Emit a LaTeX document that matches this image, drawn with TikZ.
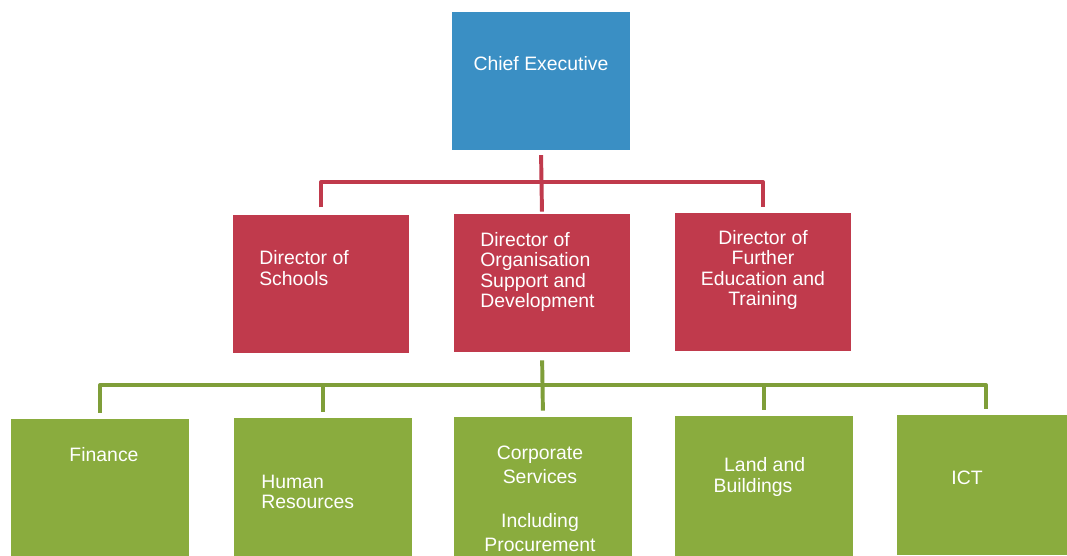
\documentclass[tikz,border=0pt]{standalone}
\usepackage{fontspec}
\setmainfont{Liberation Sans}
\definecolor{ceblue}{RGB}{58,143,196}
\definecolor{dirred}{RGB}{192,58,76}
\definecolor{unitgreen}{RGB}{138,172,62}
\tikzstyle{boxblue}=[rectangle,fill=ceblue,minimum width=4.45cm,minimum height=3.45cm,inner sep=0pt]
\tikzstyle{boxred}=[rectangle,fill=dirred,minimum width=4.4cm,minimum height=3.45cm,inner sep=0pt]
\tikzstyle{boxgreen}=[rectangle,fill=unitgreen,minimum width=4.45cm,minimum height=3.5cm,inner sep=0pt]
\tikzstyle{txt}=[text=white,font=\fontsize{13.8}{14.4}\selectfont,inner sep=0pt]
\tikzstyle{redline}=[draw=dirred,line width=2.8pt,line join=round]
\tikzstyle{greenline}=[draw=unitgreen!92!black,line width=2.8pt,line join=round]

\begin{document}
\begin{tikzpicture}[x=0.025cm,y=-0.025cm]
    \useasboundingbox (0,0) rectangle (1067,556);
    \fill[white] (0,0) rectangle (1067,556);
    \clip (0,0) rectangle (1067,556);

    % boxes
    \node[boxblue] (ce) at (541,81) {};
    \node[boxred] (schools) at (321,284) {};
    \node[boxred] (osd) at (542,283) {};
    \node[boxred] (fet) at (763,282) {};
    \node[boxgreen] (finance) at (100,489) {};
    \node[boxgreen] (hr) at (323,488) {};
    \node[boxgreen] (corp) at (543,487) {};
    \node[boxgreen] (land) at (764,486) {};
    \node[boxgreen] (ict) at (986,485) {};

    % texts
    \node[txt] (tce) at (541,64) {Chief Executive};
    \node[txt,anchor=west,align=left] (tschools) at (259,268) {Director of\\Schools};
    \node[txt,anchor=west,align=left] (tosd) at (480,272) {Director of\\Organisation\\Support and\\Development};
    \node[txt,align=center] (tfet) at (763,270) {Director of\\Further\\Education and\\Training};
    \node[txt] (tfinance) at (104,455) {Finance};
    \node[txt,anchor=west,align=left] (thr) at (261,492) {Human\\Resources};
    \node[txt,align=center,font=\fontsize{13.8}{17}\selectfont] (tcorp) at (540,499) {Corporate\\Services\\[14pt]Including\\Procurement};
    \node[txt,align=center] (tland) at (753,477) {\hspace*{1.2em}Land and\\Buildings};
    \node[txt] (tict) at (967,478) {ICT};

    % connectors
    \coordinate (rbus) at (541,182);
    \coordinate (gbus) at (543,385);
    \draw[redline,shorten <=0.12cm,shorten >=0.05cm] (ce.south) -- (osd.north);
    \draw[redline,shorten <=0.18cm,shorten >=0.15cm] (schools.north) |- (rbus) -| (fet.north);
    \draw[greenline,shorten <=0.2cm,shorten >=0.15cm] (osd.south) -- (corp.north);
    \draw[greenline,shorten <=0.15cm,shorten >=0.15cm] (finance.north) |- (gbus) -| (ict.north);
    \foreach \unit in {hr,land}
    \draw[greenline,shorten <=0.15cm] (\unit.north) -- (\unit.north |- gbus);
\end{tikzpicture}
\end{document}
